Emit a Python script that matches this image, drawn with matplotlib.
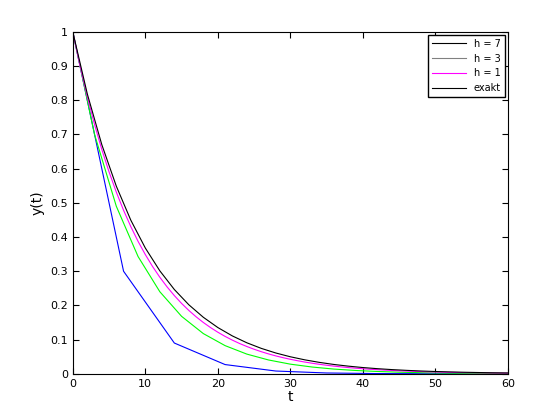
import numpy as np
import matplotlib.pyplot as plt
from matplotlib.lines import Line2D

# Euler solutions
t7 = [0, 7, 14, 21, 28, 35, 42, 49, 56]
y7 = [1, .3, .09, .027, .0081, .0024, .0007, .0002, .0001]

t3 = list(range(0, 61, 3))
y3 = [1, .7, .49, .343, .2401, .1681, .1176, .0824, .0576, .0404, .0282,
      .0198, .0138, .0097, .0068, .0047, .0033, .0023, .0016, .0011, .0008]

t1 = list(range(0, 61))
y1 = [1, .9, .81, .729, .6561, .5905, .5314, .4783, .4305, .3874, .3487, .3138,
      .2824, .2542, .2288, .2059, .1853, .1668, .1501, .1351, .1216, .1094,
      .0985, .0886, .0798, .0718, .0646, .0581, .0523, .0471, .0424, .0382,
      .0343, .0309, .0278, .0250, .0225, .0203, .0182, .0164, .0148, .0133,
      .0120, .0108, .0097, .0087, .0079, .0071, .0064, .0057, .0052, .0046,
      .0042, .0038, .0034, .0030, .0027, .0025, .0022, .0020, .0018]

te = list(range(0, 61, 2))
ye = [1, .8187, .6703, .5488, .4493, .3679, .3012, .2466, .2019, .1653, .1353,
      .1108, .0907, .0743, .0608, .0498, .0408, .0334, .0273, .0224, .0183,
      .0150, .0123, .0101, .0082, .0067, .0055, .0045, .0037, .0030, .0025]

plt.rcParams['font.size'] = 8
fig = plt.figure(figsize=(5.6, 4.2), dpi=100)
ax = fig.add_axes([0.13, 0.11, 0.777, 0.814])

ax.plot(t7, y7, color='blue', lw=0.8)
ax.plot(t3, y3, color='#00ff00', lw=0.8)
ax.plot(t1, y1, color='magenta', lw=0.8)
ax.plot(te, ye, color='black', lw=0.8)

ax.set_xlim(0, 60)
ax.set_ylim(0, 1)
ax.set_xticks(range(0, 61, 10))
ax.set_yticks(np.arange(0, 1.01, 0.1))
ax.set_yticklabels(['0', '0.1', '0.2', '0.3', '0.4', '0.5', '0.6', '0.7', '0.8', '0.9', '1'])
ax.tick_params(direction='in', top=True, right=True, length=4)
ax.set_xlabel('t', fontsize=10, labelpad=1)
ax.set_ylabel('y(t)', fontsize=10)

handles = [Line2D([], [], color='black', lw=0.8),
           Line2D([], [], color='gray', lw=0.8),
           Line2D([], [], color='magenta', lw=0.8),
           Line2D([], [], color='black', lw=0.8)]
ax.legend(handles, ['h = 7', 'h = 3', 'h = 1', 'exakt'], loc='upper right',
          fancybox=False, edgecolor='black', framealpha=1, fontsize=7,
          borderaxespad=0.3, handlelength=3.5)

fig.savefig('out.png')
